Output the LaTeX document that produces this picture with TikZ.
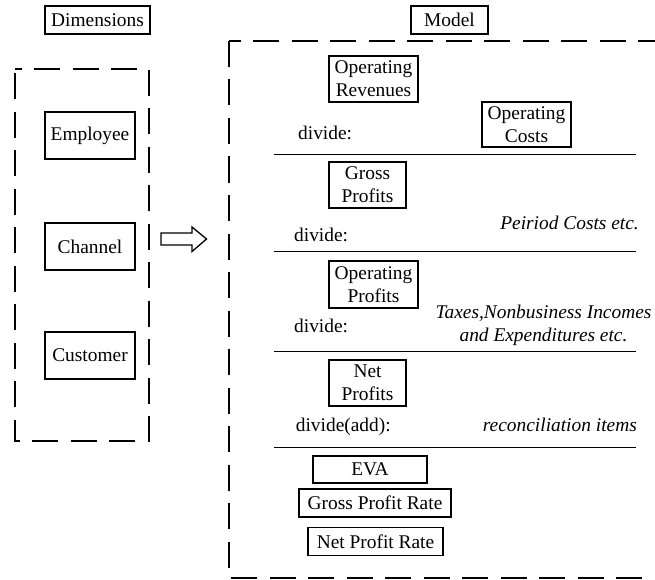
\documentclass[tikz,border=0pt]{standalone}
\usepackage{fontspec}
\setmainfont{Liberation Serif}
\newcommand\figfs{\fontsize{19.4}{22.7}\selectfont}
\tikzset{
  box/.style={draw, line width=1.3pt, inner sep=0pt, align=center, font=\figfs},
  lbl/.style={inner sep=0pt, font=\figfs},
  ilbl/.style={inner sep=0pt, font=\figfs\itshape},
  mydash/.style={line width=1.5pt, dash pattern=on 26pt off 12.5pt},
  divider/.style={line width=1.5pt},
}
\begin{document}
\begin{tikzpicture}[x=1pt,y=-1pt]
\useasboundingbox (0,0) rectangle (655,580);
% titles
\node[box, minimum width=105pt, minimum height=28pt] (dims) at (97.5,20) {Dimensions};
\node[box, minimum width=77pt, minimum height=28pt] (model) at (449.5,20) {Model};
% left dashed frame
\draw[mydash, dash phase=19.3pt] (15,69) -- (149,69) -- (149,441) -- (15,441) -- cycle;
\node[box, minimum width=90pt, minimum height=47pt] (emp) at (90,135.5) {Employee};
\node[box, minimum width=90pt, minimum height=47pt] (chan) at (90,246.5) {Channel};
\node[box, minimum width=90pt, minimum height=47pt] (cust) at (90,355.5) {Customer};
% big arrow
\draw[line width=1.3pt, line join=miter] (161,233) -- (192,233) -- (192,227) -- (206.5,239)
  -- (192,251.5) -- (192,245) -- (161,245) -- cycle;
% right dashed frame (open on the right)
\draw[mydash, dash phase=14.3pt] (229,41) -- (656,41);
\draw[mydash] (229,41) -- (229,578) -- (656,578);
% model contents
\node[box, minimum width=89pt, minimum height=46pt] (opr) at (373.5,79) {Operating\\Revenues};
\node[box, minimum width=89pt, minimum height=45pt] (opc) at (526.5,124.5) {Operating\\Costs};
\node[lbl, anchor=base west] (d1) at (298,140) {divide:};
\draw[divider] (274,154.3) -- (636,154.3);
\node[box, minimum width=77pt, minimum height=46pt] (gp) at (367.5,185) {Gross\\Profits};
\node[ilbl, anchor=base east] (pc) at (639,229) {Peiriod Costs etc.};
\node[lbl, anchor=base west] (d2) at (294,241.5) {divide:};
\draw[divider] (274,251.7) -- (636,251.7);
\node[box, minimum width=89pt, minimum height=47pt] (op) at (373.5,284.5) {Operating\\Profits};
\node[ilbl, align=center] (tax) at (543.5,325.2) {Taxes,Nonbusiness Incomes\\and Expenditures etc.};
\node[lbl, anchor=base west] (d3) at (294,332.5) {divide:};
\draw[divider] (274,351.7) -- (636,351.7);
\node[box, minimum width=77pt, minimum height=46pt] (np) at (367.5,383) {Net\\Profits};
\node[lbl, anchor=base west] (d4) at (295.7,431) {divide(add):};
\node[ilbl, anchor=base east] (rec) at (637,431) {reconciliation items};
\draw[divider] (274,447.3) -- (636,447.3);
\node[box, minimum width=114pt, minimum height=27pt] (eva) at (370,469.5) {EVA};
\node[box, minimum width=152pt, minimum height=28pt] (gpr) at (375,503) {Gross Profit Rate};
\node[box, minimum width=135pt, minimum height=28pt] (npr) at (375.5,541.5) {Net Profit Rate};
\end{tikzpicture}
\end{document}
